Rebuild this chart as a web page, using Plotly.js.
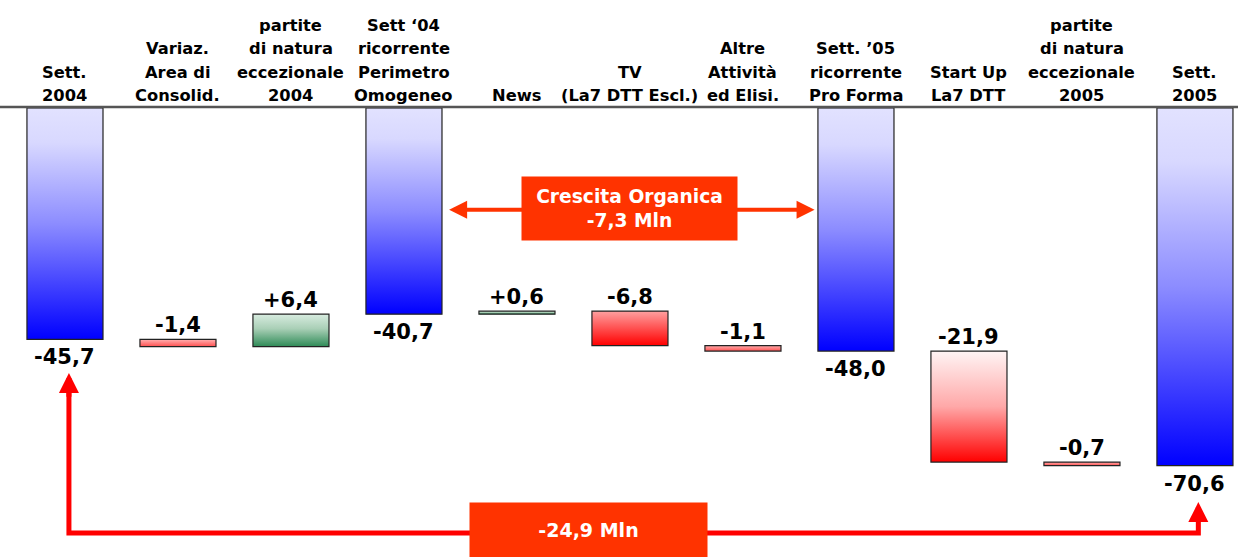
<!DOCTYPE html>
<html>
<head>
<meta charset="utf-8">
<script src="https://cdn.plot.ly/plotly-3.0.1.min.js"></script>
<style>
html,body{margin:0;padding:0;background:#fff;}
#chart{width:1238px;height:557px;}
</style>
</head>
<body>
<div id="chart"></div>
<script>
// ---- data ----
var categories = ["Sett. 2004","Variaz. Area di Consolid.","partite di natura eccezionale 2004",
  "Sett '04 ricorrente Perimetro Omogeneo","News","TV (La7 DTT Escl.)","Altre Attività ed Elisi.",
  "Sett. '05 ricorrente Pro Forma","Start Up La7 DTT","partite di natura eccezionale 2005","Sett. 2005"];
var labelLines = [
  ["Sett.","2004"],
  ["Variaz.","Area di","Consolid."],
  ["partite","di natura","eccezionale","2004"],
  ["Sett \u201804","ricorrente","Perimetro","Omogeneo"],
  ["News"],
  ["TV","(La7 DTT Escl.)"],
  ["Altre","Attività","ed Elisi."],
  ["Sett. \u201905","ricorrente","Pro Forma"],
  ["Start Up","La7 DTT"],
  ["partite","di natura","eccezionale","2005"],
  ["Sett.","2005"]
];
var values = [-45.7, -1.4, 6.4, -40.7, 0.6, -6.8, -1.1, -48.0, -21.9, -0.7, -70.6];
var kinds  = ["total","delta","delta","total","delta","delta","delta","total","delta","delta","total"];
var fills  = ["blue","redthin","green","blue","green","red","redthin","blue","redlight","redthin","blue"];
var organicText = "Crescita Organica<br>-7,3 Mln";
var totalText = "-24,9 Mln";

// ---- build waterfall ----
var xs = categories.map(function(_, i){ return i; });
var bases = [], heights = [], running = 0;
values.forEach(function(v, i){
  if (kinds[i] === "total") { bases.push(0); heights.push(v); running = v; }
  else { bases.push(running); heights.push(v); running += v; }
});
var solid = {blue:"#7f7fff", redthin:"#ff8080", green:"#7fb995", red:"#ff5050", redlight:"#ff9090"};

var FONT = "DejaVu Sans, Verdana, sans-serif";
var BW = 0.673;

var trace = {
  type: "bar", x: xs, y: heights, base: bases, width: BW,
  marker: {color: fills.map(function(f){return solid[f];}), line: {color: "#222", width: 1.2}},
  hoverinfo: "none", showlegend: false
};

function fmt(v){ return (v > 0 ? "+" : "") + v.toFixed(1).replace(".", ","); }

var annotations = [];
// category labels
labelLines.forEach(function(lines, i){
  var n = lines.length;
  lines.forEach(function(t, k){
    annotations.push({x: i, y: 0, xref: "x", yref: "y", text: t, showarrow: false,
      xanchor: "center", yanchor: "middle", yshift: 12 + (n - 1 - k) * 23.5,
      font: {family: FONT, size: 16.3, color: "#000", weight: "bold"}});
  });
});
// value labels
values.forEach(function(v, i){
  var lo = Math.min(bases[i], bases[i] + heights[i]);
  var hi = Math.max(bases[i], bases[i] + heights[i]);
  if (kinds[i] === "total") {
    annotations.push({x: i, y: lo, text: fmt(v), showarrow: false, xanchor: "center", yanchor: "top",
      yshift: -4, font: {family: FONT, size: 21, color: "#000", weight: "bold"}});
  } else {
    annotations.push({x: i, y: hi, text: fmt(v), showarrow: false, xanchor: "center", yanchor: "bottom",
      yshift: 0, font: {family: FONT, size: 21, color: "#000", weight: "bold"}});
  }
});

// organic growth arrow (between the two recurring totals)
var yOrg = -20.1;
annotations.push({x: 7 - BW/2 - 0.03, y: yOrg, ax: 3 + BW/2 + 0.05, ay: yOrg, axref: "x", ayref: "y",
  xref: "x", yref: "y", text: "", showarrow: true, arrowhead: 2, startarrowhead: 2, arrowside: "end+start",
  arrowsize: 0.9, startarrowsize: 0.9, arrowwidth: 4, arrowcolor: "#ff3300", standoff: 0, startstandoff: 0});
annotations.push({x: 5, y: -19.8, text: organicText, showarrow: false, xanchor: "center", yanchor: "middle",
  bgcolor: "#ff3300", width: 207, height: 55, borderpad: 4,
  font: {family: FONT, size: 18.7, color: "#fff", weight: "bold"}});

// bottom total arrow
var yBot = -83.9, xL = 0.035, xR = 10.03;
var yTipL = -52.3, yTipR = -77.8;
annotations.push({x: xL, y: yTipL, ax: xL, ay: yTipL - 5, axref: "x", ayref: "y", text: "", showarrow: true,
  arrowhead: 2, arrowsize: 0.8, arrowwidth: 5, arrowcolor: "#ff0000", standoff: 0});
annotations.push({x: xR, y: yTipR, ax: xR, ay: yTipR - 3, axref: "x", ayref: "y", text: "", showarrow: true,
  arrowhead: 2, arrowsize: 0.8, arrowwidth: 5, arrowcolor: "#ff0000", standoff: 0});
annotations.push({x: 4.63, y: -83.3, text: totalText, showarrow: false, xanchor: "center", yanchor: "middle",
  bgcolor: "#ff3300", width: 229, height: 46, borderpad: 4,
  font: {family: FONT, size: 19, color: "#fff", weight: "bold"}});

var shapes = [
  {type: "line", xref: "paper", yref: "y", x0: 0, x1: 1, y0: 0.2, y1: 0.2,
   line: {color: "#555", width: 2.5}, layer: "above"},
  {type: "path", xref: "x", yref: "y",
   path: "M " + xL + "," + (yTipL - 3) + " L " + xL + "," + yBot + " L " + xR + "," + yBot + " L " + xR + "," + (yTipR - 2),
   line: {color: "#ff0000", width: 5}, layer: "below"}
];

var layout = {
  width: 1238, height: 557,
  margin: {l: 0, r: 0, t: 0, b: 0},
  paper_bgcolor: "#fff", plot_bgcolor: "#fff",
  xaxis: {range: [-0.575, 10.381], visible: false, fixedrange: true},
  yaxis: {range: [-88.65, 21.32], visible: false, fixedrange: true},
  bargap: 0.3,
  annotations: annotations,
  shapes: shapes,
  showlegend: false
};

Plotly.newPlot("chart", [trace], layout, {displayModeBar: false, staticPlot: true}).then(function(gd){
  var svg = gd.querySelector(".main-svg");
  var NS = "http://www.w3.org/2000/svg";
  var defs = svg.querySelector("defs") || svg.insertBefore(document.createElementNS(NS, "defs"), svg.firstChild);
  var grads = {
    blue: [[0, "#e2e2ff"], [0.15, "#d8d8ff"], [0.5, "#8c8cff"], [1, "#0000ff"]],
    redthin: [[0, "#ffb0b0"], [0.5, "#ff8080"], [1, "#ff5050"]],
    green: [[0, "#d8ece0"], [0.45, "#a9cfb6"], [1, "#2e8b57"]],
    red: [[0, "#ffa0a0"], [1, "#ff0000"]],
    redlight: [[0, "#fff4f4"], [0.5, "#ffa8a8"], [1, "#ff0000"]]
  };
  Object.keys(grads).forEach(function(k){
    var lg = document.createElementNS(NS, "linearGradient");
    lg.setAttribute("id", "wf-" + k);
    lg.setAttribute("x1", "0"); lg.setAttribute("y1", "0");
    lg.setAttribute("x2", "0"); lg.setAttribute("y2", "1");
    grads[k].forEach(function(s){
      var st = document.createElementNS(NS, "stop");
      st.setAttribute("offset", s[0]);
      st.setAttribute("stop-color", s[1]);
      lg.appendChild(st);
    });
    defs.appendChild(lg);
  });
  var paths = gd.querySelectorAll(".barlayer .point path");
  paths.forEach(function(p, i){
    if (fills[i]) p.style.fill = "url(#wf-" + fills[i] + ")";
  });
});
</script>
</body>
</html>
